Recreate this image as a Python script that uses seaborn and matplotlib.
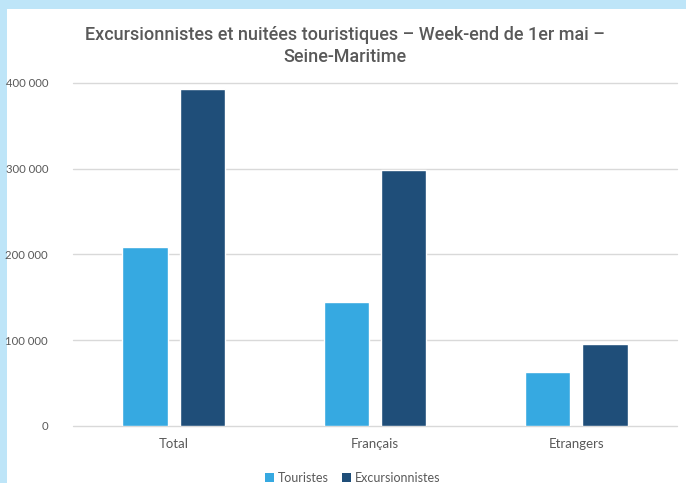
import pandas as pd
import matplotlib
matplotlib.use("Agg")
import matplotlib.pyplot as plt
from matplotlib.patches import Rectangle, Patch
from matplotlib.ticker import FuncFormatter
import seaborn as sns

categories = ["Total", "Français", "Etrangers"]
touristes = [209000, 145000, 63500]
excursionnistes = [393000, 299000, 95500]
series_names = ["Touristes", "Excursionnistes"]
yticks = [0, 100000, 200000, 300000, 400000]
title = "Excursionnistes et nuitées touristiques – Week-end de 1er mai –\nSeine-Maritime"

df = pd.DataFrame({
    "cat": categories * 2,
    "serie": [series_names[0]] * 3 + [series_names[1]] * 3,
    "val": touristes + excursionnistes,
})

sns.set_theme(style="white")
plt.rcParams["font.family"] = ["Lato", "DejaVu Sans"]

colors = {"Touristes": "#36A9E1", "Excursionnistes": "#1F4E79"}
grey = "#595959"

fig = plt.figure(figsize=(6.86, 4.83), dpi=100)
fig.patch.set_facecolor("#BEE5F8")
fig.patches.append(Rectangle((7 / 686, 0), 1, (483 - 9) / 483, transform=fig.transFigure,
                             facecolor="white", edgecolor="none", zorder=-1))

ax = fig.add_axes([73 / 686, 57 / 483, 604 / 686, 343 / 483])
ax.set_zorder(1)
ax.set_facecolor("none")
sns.barplot(data=df, x="cat", y="val", hue="serie", order=categories, hue_order=series_names,
            palette=colors, width=0.57, gap=0.21, ax=ax, legend=False, errorbar=None,
            saturation=1, zorder=3)

ax.set_ylim(0, 400000)
ax.set_xlim(-0.5, 2.5)
ax.set_yticks(yticks)
ax.yaxis.set_major_formatter(FuncFormatter(lambda v, p: f"{int(v):,}".replace(",", " ")))
ax.grid(axis="y", color="#D9D9D9", linewidth=1.0, zorder=0)
for gl in ax.get_ygridlines():
    gl.set_clip_on(False)
ax.set_axisbelow(True)
for s in ax.spines.values():
    s.set_visible(False)
ax.set_xlabel("")
ax.set_ylabel("")
ax.tick_params(axis="both", length=0, labelcolor=grey)
ax.tick_params(axis="y", pad=18, labelsize=8.2)
ax.tick_params(axis="x", pad=9, labelsize=9.5)

fig.text(0.503, 0.905, title, ha="center", va="center", fontsize=13, color=grey,
         family=["Roboto", "DejaVu Sans"], fontweight="medium", linespacing=1.3)

handles = [Patch(facecolor=colors[n], edgecolor="none", label=n) for n in series_names]
fig.legend(handles=handles, loc="center", bbox_to_anchor=(0.514, 0.01), ncol=2, frameon=False,
           fontsize=9, handlelength=0.7, handleheight=0.7, handletextpad=0.3, columnspacing=1.1,
           labelcolor=grey)

fig.savefig("out.png", dpi=100, facecolor=fig.get_facecolor())
